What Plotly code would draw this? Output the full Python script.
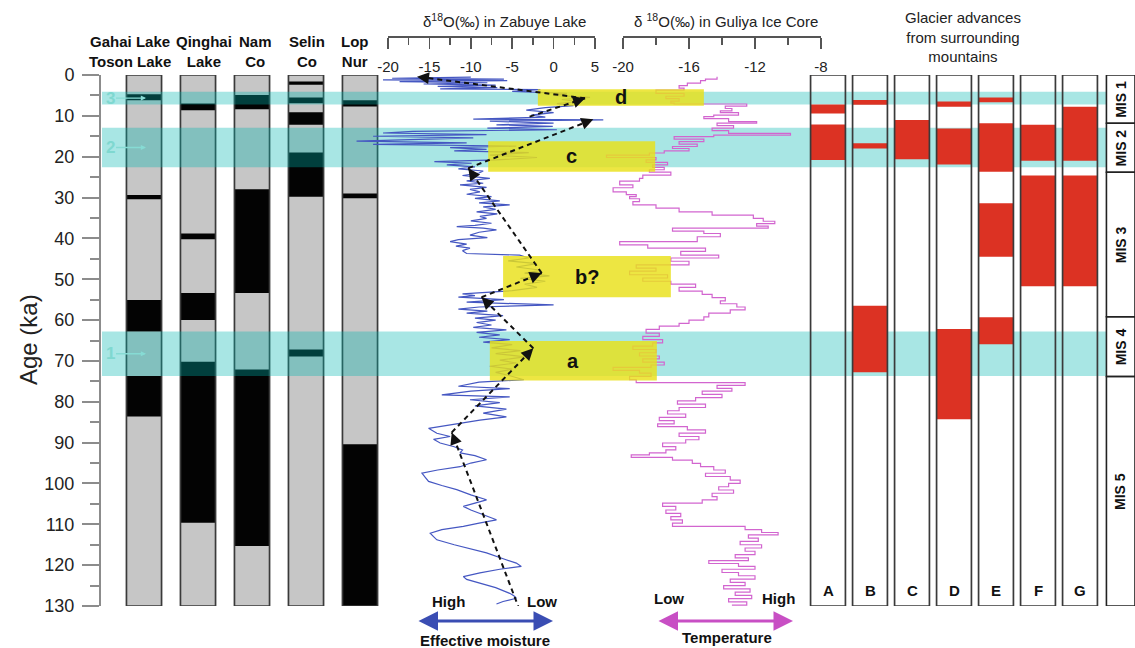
import math
import plotly.graph_objects as go

W, H = 1135, 648
FONT = "Liberation Sans, Arial, Helvetica, sans-serif"

# ------------------------------------------------------------------ data
AGE_TICKS = [0, 10, 20, 30, 40, 50, 60, 70, 80, 90, 100, 110, 120, 130]
AGE_MINOR = [5, 15, 25, 35, 45, 55, 65, 75, 85, 95, 105, 115, 125]
AGE_MAX = 130

LAKES = ["Gahai Toson", "Qinghai", "Nam Co", "Selin Co", "Lop Nur"]
LAKE_HEADERS = ["Gahai Lake<br>Toson Lake", "Qinghai<br>Lake", "Nam<br>Co", "Selin<br>Co", "Lop<br>Nur"]
GAHAI_WET = [(4.7, 6.2), (29.4, 30.4), (55.1, 62.8), (73.7, 83.6)]
QINGHAI_WET = [(7.0, 8.6), (38.8, 40.2), (53.4, 60.0), (70.2, 109.6)]
NAMCO_WET = [(4.9, 8.4), (28.0, 53.4), (72.1, 115.3)]
SELINCO_WET = [(1.6, 2.4), (5.5, 6.9), (9.1, 12.2), (19.0, 29.8), (67.2, 68.9)]
LOPNUR_WET = [(6.2, 7.7), (29.0, 30.2), (90.4, 130.0)]
LAKE_WET = [GAHAI_WET, QINGHAI_WET, NAMCO_WET, SELINCO_WET, LOPNUR_WET]

BAND_NAMES = ["1", "2", "3"]
BAND_START = [62.8, 12.9, 4.1]
BAND_END = [73.7, 22.6, 7.2]

ZAB_TICKS = [-20, -15, -10, -5, 0, 5]
ZAB_MINOR = [-17.5, -12.5, -7.5, -2.5, 2.5]
GUL_TICKS = [-20, -16, -12, -8]
GUL_MINOR = [-18, -14, -10]

ZAB_AGE = [0.5, 0.8, 1.0, 1.2, 1.4, 1.6, 1.9, 2.2, 2.5, 2.8, 3.1, 3.4, 3.6, 4.0, 4.5, 5.0,
           5.5, 6.0, 6.5, 7.0, 7.5, 8.0, 8.6, 9.2, 9.8, 10.3, 10.8, 11.0, 11.3, 11.8, 12.2,
           12.6, 13.0, 13.4, 13.8, 14.2, 14.6, 15.0, 15.4, 15.8, 16.2, 16.6, 17.0, 17.4,
           17.8, 18.2, 18.6, 19.0, 19.6, 20.2, 20.8, 21.2, 21.6, 22.0, 22.5, 23.0, 23.5,
           24.0, 24.6, 25.3, 25.9, 26.5, 26.9, 27.5, 28.0, 28.6, 29.2, 29.8, 30.2, 30.8,
           31.3, 31.8, 32.3, 32.9, 33.5, 34.0, 34.6, 35.1, 35.7, 36.3, 36.8, 37.1, 37.5,
           37.9, 38.5, 39.2, 39.8, 40.3, 40.8, 41.4, 41.9, 42.4, 43.0, 43.7, 44.1, 44.8,
           45.5, 46.2, 47.0, 47.8, 48.5, 49.2, 49.8, 50.5, 51.2, 52.0, 52.8, 53.6, 54.0,
           54.4, 55.0, 55.6, 56.3, 56.8, 57.3, 57.8, 58.3, 58.9, 59.5, 60.0, 60.6, 61.2,
           61.8, 62.4, 63.0, 63.6, 64.2, 64.8, 65.4, 66.0, 66.8, 67.5, 68.2, 69.0, 69.8,
           70.5, 71.3, 72.0, 72.8, 73.5, 74.6, 75.2, 76.2, 76.8, 77.4, 78.3, 78.8, 79.5,
           80.2, 81.0, 81.8, 82.8, 83.7, 84.5, 85.5, 86.5, 87.2, 87.7, 88.5, 89.2, 90.1,
           91.0, 91.8, 92.5, 93.2, 94.2, 95.0, 95.9, 96.7, 97.5, 98.5, 99.5, 100.5, 101.5,
           102.8, 104.0, 104.8, 105.6, 106.5, 107.3, 108.1, 108.9, 109.7, 110.5, 111.3,
           112.2, 113.0, 113.8, 115.0, 116.0, 117.0, 118.5, 119.5, 120.3, 121.0, 121.9,
           122.8, 123.5, 124.4, 125.5, 126.9, 127.5, 128.1, 128.9, 129.5]
ZAB_D18O = [-10.0, -19.5, -6.0, -20.6, -5.6, -18.6, -8.0, -15.7, -7.0, -14.0, -6.8, -13.7,
            -1.6, -5.0, 1.6, 0.0, 4.4, 1.0, 3.0, 0.4, 2.4, -1.0, -3.3, 0.0, -2.7, -1.0, -9.7,
            6.0, -7.7, 0.0, -6.9, -0.1, -8.0, 0.4, -17.0, -20.6, -8.1, -21.8, -9.7, -16.0,
            -23.8, -10.5, -21.8, -4.5, -12.5, -8.1, -12.0, -3.0, -7.7, -2.0, -6.9, -14.4,
            -9.9, -12.9, -9.5, -11.5, -8.5,
            -9.0, -11.0, -7.7, -10.5, -8.5, -11.3, -8.1, -10.1, -8.9, -10.5, -7.5, -9.5,
            -6.5, -9.0, -5.3, -8.5, -7.0, -9.3, -6.8, -8.9, -8.1, -10.0, -7.5, -9.5, -11.7,
            -8.5, -6.9, -9.0, -10.1, -8.0, -11.5, -12.5, -10.5, -11.8, -10.1, -11.0, -10.5,
            -4.1, -3.0, -5.5, -2.0, -4.5, -1.5, -3.5, -0.5, -4.0, -1.0, -3.5, -2.0, -5.0,
            -11.0, -9.5, -11.5, -6.0, -10.5, 0.0, -9.0, -11.5, -8.0, -10.5, -6.1, -9.5, -7.0,
            -9.3, -7.5, -9.7, -5.7, -9.3, -6.5, -9.0, -5.3, -8.5, -5.0, -7.5, -4.0, -7.0,
            -3.5, -6.5, -4.5, -7.7, -5.0, -7.0, -5.5, -3.6, -9.0, -11.5, -5.3, -10.0, -13.5,
            -5.3, -10.1, -6.5, -9.5, -5.7, -8.5, -5.7, -8.9, -12.0, -15.1, -14.5, -14.1,
            -12.5, -14.5, -13.7, -12.0, -11.0, -11.3, -9.5, -8.1, -10.0, -11.3, -14.0, -15.9,
            -15.5, -15.1, -13.5, -11.7, -10.0, -8.1, -9.5, -10.9, -10.0, -8.9, -8.0, -6.9,
            -9.0, -10.9, -13.5, -14.9, -14.5, -14.1, -12.0, -10.0, -8.1, -6.0, -4.5, -3.9,
            -6.5, -8.9, -10.9, -10.5, -8.9, -7.0, -5.3, -4.8, -4.5, -6.1, -6.9]

GUL_AGE = [0.4, 1.0, 1.4, 2.0, 2.6, 3.2, 3.7, 4.5, 5.2, 5.8, 6.4, 6.9, 7.1, 7.6, 8.2, 8.8,
           9.2, 9.8, 10.2, 10.7, 11.4, 11.8, 12.4, 13.0, 13.6, 14.3, 14.7, 15.1, 15.7, 16.3,
           16.9, 17.5, 18.0, 18.6, 19.1, 19.6, 20.2, 20.8, 21.4, 22.0, 22.6, 23.2, 23.8,
           24.5, 25.3, 26.0, 26.9, 27.6, 28.6, 29.3, 29.8, 30.3, 31.0, 31.8, 32.6, 33.5,
           34.3, 35.1, 35.8, 36.4, 37.0, 37.5, 38.2, 38.8, 39.6, 40.8, 41.6, 42.4, 43.2,
           44.1, 44.8, 45.6, 46.5, 47.3, 48.0, 48.9, 49.7, 50.5, 51.2, 52.0, 52.9, 53.7,
           54.5, 55.3, 56.0, 56.8, 57.5, 58.3, 59.2, 60.0, 60.8, 61.5, 62.3, 63.2, 64.0,
           64.8, 65.6, 66.4, 67.2, 68.0, 68.8, 69.5, 70.3, 71.0, 71.6, 72.3, 73.0, 73.8,
           74.6, 75.3, 76.0, 76.7, 77.4, 78.2, 79.0, 79.8, 80.6, 81.4, 82.2, 83.0, 83.8,
           84.6, 85.4, 86.1, 86.9, 87.7, 88.5, 89.3, 90.1, 91.0, 91.8, 92.5, 93.0, 93.6,
           94.3, 95.1, 95.9, 96.7, 97.5, 98.3, 99.2, 100.0, 100.8, 101.6, 102.4, 103.2,
           104.0, 104.8, 105.6, 106.5, 107.3, 108.1, 108.9, 109.7, 110.5, 111.3, 112.0,
           112.6, 113.4, 114.2, 115.0, 115.8, 116.6, 117.4, 118.2, 118.9, 119.6, 120.3,
           121.0, 121.8, 122.6, 123.4, 124.2, 125.0, 125.8, 126.6, 127.4, 128.2, 129.0, 129.8]
GUL_D18O = [-14.3, -15.0, -15.3, -16.1, -16.6, -16.3, -18.0, -16.3, -17.4, -16.6, -17.1,
            -16.9, -12.5, -13.8, -13.4, -14.1, -13.0, -14.5, -15.1, -13.6, -11.9, -14.3,
            -13.3, -14.6, -13.6, -9.85, -14.5, -16.9, -15.1, -16.6, -15.5, -17.0, -16.0,
            -17.5, -18.4, -21.0, -18.0, -18.6, -17.3, -18.2, -17.5, -18.4, -17.1, -18.8,
            -19.0, -20.2, -19.4, -20.6, -19.8, -19.2, -19.6, -19.0, -19.4, -18.0, -16.6,
            -14.6, -12.1, -11.5, -10.8, -11.9, -11.2, -17.0, -15.1, -14.1, -15.5, -20.2,
            -18.5, -15.0, -16.5, -14.2, -17.1, -16.0, -19.2, -18.0, -19.6, -17.3, -18.8,
            -17.1, -15.6, -16.6, -15.2, -14.6, -13.8, -14.1, -13.1, -12.6, -13.5, -14.8,
            -15.1, -16.0, -16.6, -17.8, -18.6, -17.8, -18.8, -17.6, -18.2, -19.4, -18.0,
            -19.0, -17.8, -18.8, -17.5, -18.3, -20.6, -19.0, -18.3, -19.6, -19.2, -12.6,
            -14.3, -13.4, -15.2, -14.0, -15.6, -16.7, -15.0, -16.6, -17.3, -16.2, -17.8,
            -16.9, -17.9, -16.1, -15.0, -16.6, -15.4, -16.2, -17.6, -16.8, -17.4, -18.4,
            -19.5, -17.0, -15.8, -15.3, -14.5, -13.8, -15.0, -13.5, -12.9, -13.6, -14.2,
            -13.3, -14.6, -14.3, -15.2, -17.6, -16.8, -17.4, -16.5, -17.1, -16.4, -17.0,
            -12.6, -11.6, -10.6, -12.4, -11.8, -12.9, -11.6, -12.6, -12.0, -13.2, -12.4,
            -14.8, -13.0, -12.0, -14.0, -13.0, -12.0, -13.5, -12.6, -13.9, -12.3, -13.2,
            -12.2, -13.6, -12.5, -13.4]

# boxes of events (age span, left edge on Zabuye scale, right edge on Guliya scale)
EVENT_LABELS = ["d", "c", "b?", "a"]
EVENT_TOP = [3.5, 16.2, 44.3, 65.1]
EVENT_BOTTOM = [7.5, 23.7, 54.4, 74.8]
EVENT_ZAB_LEFT = [-1.9, -7.9, -6.1, -7.7]
EVENT_GUL_RIGHT = [-15.1, -18.05, -17.1, -17.95]

# dashed trend path on Zabuye scale: (d18O, age) start -> end
TREND_FROM = [(-4.1, 131.0), (-12.3, 87.5), (-2.45, 66.9), (-8.7, 54.4), (-1.44, 48.5),
              (-10.3, 22.8), (-2.9, 10.2), (3.8, 5.7)]
TREND_TO = [(-12.3, 87.5), (-2.45, 66.9), (-8.7, 54.4), (-1.44, 48.5), (-10.3, 22.8),
            (4.8, 10.85), (3.8, 5.7), (-16.5, 0.4)]

GLACIERS = ["A", "B", "C", "D", "E", "F", "G"]
GLAC_A = [(7.2, 9.4), (12.1, 20.8)]
GLAC_B = [(6.1, 7.3), (16.7, 18.0), (56.5, 72.8)]
GLAC_C = [(11.0, 20.6)]
GLAC_D = [(6.5, 7.8), (13.1, 21.9), (62.2, 84.3)]
GLAC_E = [(5.5, 6.7), (11.8, 23.7), (31.4, 44.5), (59.3, 65.9)]
GLAC_F = [(12.2, 21.0), (24.6, 51.7)]
GLAC_G = [(7.8, 21.0), (24.6, 51.7)]
GLAC_SEGS = [GLAC_A, GLAC_B, GLAC_C, GLAC_D, GLAC_E, GLAC_F, GLAC_G]

MIS_NAMES = ["MIS 1", "MIS 2", "MIS 3", "MIS 4", "MIS 5"]
MIS_BOUNDS = [0, 11.8, 23.8, 59.2, 73.8, 130]

# ------------------------------------------------------------------ geometry (px)
Y_TOP, Y_BOT = 75, 606
AXIS_X = 100
LAKE_DOM = (117, 387)
BAND_DOM = (102, 1107)
ZAB_TICK_PX = (388, 595)
ZAB_DATA_PX = (330, 650)
GUL_TICK_PX = (623, 821)
GUL_DATA_PX = (588, 845)
GLAC_DOM = (807, 1101)
MIS_DOM = (1105, 1135)
TOP_AXIS_Y = 36


def zab_px(v):
    return ZAB_TICK_PX[0] + (v - ZAB_TICKS[0]) * (ZAB_TICK_PX[1] - ZAB_TICK_PX[0]) / (ZAB_TICKS[-1] - ZAB_TICKS[0])


def zab_val(px):
    return ZAB_TICKS[0] + (px - ZAB_TICK_PX[0]) * (ZAB_TICKS[-1] - ZAB_TICKS[0]) / (ZAB_TICK_PX[1] - ZAB_TICK_PX[0])


def gul_px(v):
    return GUL_TICK_PX[0] + (v - GUL_TICKS[0]) * (GUL_TICK_PX[1] - GUL_TICK_PX[0]) / (GUL_TICKS[-1] - GUL_TICKS[0])


def gul_val(px):
    return GUL_TICKS[0] + (px - GUL_TICK_PX[0]) * (GUL_TICKS[-1] - GUL_TICKS[0]) / (GUL_TICK_PX[1] - GUL_TICK_PX[0])


def age_px(a):
    return Y_TOP + a * (Y_BOT - Y_TOP) / AGE_MAX


def dom(p):
    return [p[0] / W, p[1] / W]


def px_x(p):
    return p / W


def px_y(p):
    return 1 - p / H


fig = go.Figure()

# ---- lake columns (x) ----
fig.add_trace(go.Bar(x=LAKES, y=[AGE_MAX] * len(LAKES), base=[0] * len(LAKES), width=0.65,
                     marker=dict(color="#c6c6c6", line=dict(width=0)), xaxis="x", yaxis="y",
                     hoverinfo="skip", showlegend=False))
wx, wb, wy = [], [], []
for lake, segs in zip(LAKES, LAKE_WET):
    for s, e in segs:
        wx.append(lake)
        wb.append(s)
        wy.append(e - s)
fig.add_trace(go.Bar(x=wx, y=wy, base=wb, width=0.65, marker=dict(color="#030303", line=dict(width=0)),
                     xaxis="x", yaxis="y", hoverinfo="skip", showlegend=False))
fig.add_trace(go.Bar(x=LAKES, y=[AGE_MAX] * len(LAKES), base=[0] * len(LAKES), width=0.65,
                     marker=dict(color="rgba(0,0,0,0)", line=dict(width=1.7, color="#3a3a3a")),
                     xaxis="x", yaxis="y", hoverinfo="skip", showlegend=False))

# ---- cyan bands (x2) ----
fig.add_trace(go.Bar(orientation="h", x=[1] * len(BAND_NAMES),
                     y=[(s + e) / 2 for s, e in zip(BAND_START, BAND_END)],
                     width=[e - s for s, e in zip(BAND_START, BAND_END)], base=[0] * len(BAND_NAMES),
                     marker=dict(color="rgba(0,181,175,0.34)", line=dict(width=0)),
                     xaxis="x2", yaxis="y", hoverinfo="skip", showlegend=False))

# ---- Zabuye curve (x3) ----
fig.add_trace(go.Scatter(x=ZAB_D18O, y=ZAB_AGE, mode="lines", line=dict(color="#4557c2", width=1.2),
                         xaxis="x3", yaxis="y", hoverinfo="skip", showlegend=False))

# ---- Guliya curve (x4) ----
fig.add_trace(go.Scatter(x=GUL_D18O, y=GUL_AGE, mode="lines", line=dict(color="#d265cf", width=1.2, shape="vh"),
                         xaxis="x4", yaxis="y", hoverinfo="skip", showlegend=False))

# ---- glacier columns (x5) ----
gx, gb, gy = [], [], []
for site, segs in zip(GLACIERS, GLAC_SEGS):
    for s, e in segs:
        gx.append(site)
        gb.append(s)
        gy.append(e - s)
fig.add_trace(go.Bar(x=gx, y=gy, base=gb, width=0.83, marker=dict(color="#dc3223", line=dict(width=0)),
                     xaxis="x5", yaxis="y", hoverinfo="skip", showlegend=False))
fig.add_trace(go.Bar(x=GLACIERS, y=[AGE_MAX] * len(GLACIERS), base=[0] * len(GLACIERS), width=0.83,
                     marker=dict(color="rgba(0,0,0,0)", line=dict(width=1.7, color="#3a3a3a")),
                     xaxis="x5", yaxis="y", hoverinfo="skip", showlegend=False))

# ---- visible top axes (x6, x7) ----
fig.add_trace(go.Scatter(x=[None], y=[None], xaxis="x6", yaxis="y", hoverinfo="skip", showlegend=False))
fig.add_trace(go.Scatter(x=[None], y=[None], xaxis="x7", yaxis="y", hoverinfo="skip", showlegend=False))

# ---- MIS boxes (x8) ----
fig.add_trace(go.Bar(x=["MIS"] * len(MIS_NAMES),
                     y=[MIS_BOUNDS[i + 1] - MIS_BOUNDS[i] for i in range(len(MIS_NAMES))],
                     base=MIS_BOUNDS[:-1], width=1.0,
                     marker=dict(color="rgba(0,0,0,0)", line=dict(width=1.6, color="#222")),
                     xaxis="x8", yaxis="y", hoverinfo="skip", showlegend=False))

shapes = []
annotations = []

# event boxes
for lab, t, b, zl, gr in zip(EVENT_LABELS, EVENT_TOP, EVENT_BOTTOM, EVENT_ZAB_LEFT, EVENT_GUL_RIGHT):
    x0 = zab_px(zl)
    x1 = gul_px(gr)
    shapes.append(dict(type="rect", xref="paper", yref="y", x0=x0 / W, x1=x1 / W, y0=t, y1=b,
                       fillcolor="rgba(233,225,25,0.82)", line=dict(width=0), layer="above"))
    annotations.append(dict(x=(x0 + x1) / 2 / W, y=(t + b) / 2, xref="paper", yref="y", text=f"<b>{lab}</b>",
                            showarrow=False, font=dict(size=20, color="#111", family=FONT)))

# dashed trend lines + arrow heads
for (v0, a0), (v1, a1) in zip(TREND_FROM, TREND_TO):
    shapes.append(dict(type="line", xref="x3", yref="y", x0=v0, y0=a0, x1=v1, y1=a1,
                       line=dict(color="#111", width=2, dash="5px,4px"), layer="above"))
    dx = zab_px(v0) - zab_px(v1)
    dy = age_px(a0) - age_px(a1)
    L = math.hypot(dx, dy)
    annotations.append(dict(x=v1, y=a1, xref="x3", yref="y", ax=dx / L * 11, ay=dy / L * 11,
                            text="", showarrow=True, arrowhead=2, arrowsize=1.2, arrowwidth=2,
                            arrowcolor="#111", standoff=0))

# band labels
for name, s, e in zip(BAND_NAMES, BAND_START, BAND_END):
    annotations.append(dict(x=px_x(146), y=(s + e) / 2, xref="paper", yref="y", ax=-36, ay=0,
                            text=f"<b>{name}</b>", showarrow=True, arrowhead=2, arrowsize=0.8,
                            arrowwidth=1.3, arrowcolor="#86dbd4",
                            font=dict(size=17, color="#7fd8d0", family=FONT)))

# lake headers
for txt, xp in zip(LAKE_HEADERS, [130, 204, 255, 307, 355]):
    annotations.append(dict(x=px_x(xp), y=px_y(51), xref="paper", yref="paper", text=f"<b>{txt}</b>",
                            showarrow=False, font=dict(size=15, color="#111", family=FONT)))

# curve titles
annotations.append(dict(x=px_x(504), y=px_y(20), xref="paper", yref="paper",
                        text="δ<sup>18</sup>O(‰) in Zabuye Lake", showarrow=False,
                        font=dict(size=15, color="#222", family=FONT)))
annotations.append(dict(x=px_x(726), y=px_y(20), xref="paper", yref="paper",
                        text="δ <sup>18</sup>O(‰) in Guliya Ice Core", showarrow=False,
                        font=dict(size=15, color="#222", family=FONT)))
annotations.append(dict(x=px_x(963), y=px_y(37), xref="paper", yref="paper",
                        text="Glacier advances<br>from surrounding<br>mountains", showarrow=False,
                        font=dict(size=15, color="#222", family=FONT)))

# y title
annotations.append(dict(x=px_x(28), y=px_y(340), xref="paper", yref="paper", text="Age (ka)",
                        textangle=-90, showarrow=False, font=dict(size=24, color="#222", family=FONT)))

# glacier site letters
for site in GLACIERS:
    annotations.append(dict(x=site, y=126.2, xref="x5", yref="y", text=f"<b>{site}</b>",
                            showarrow=False, font=dict(size=15, color="#111", family=FONT)))

# MIS labels
for i, name in enumerate(MIS_NAMES):
    annotations.append(dict(x="MIS", y=(MIS_BOUNDS[i] + MIS_BOUNDS[i + 1]) / 2, xref="x8", yref="y",
                            text=f"<b>{name}</b>", textangle=-90, showarrow=False,
                            font=dict(size=14, color="#111", family=FONT)))

# bottom direction legends
BOLD15 = dict(size=15, color="#111", family=FONT)
for txt, xp, yp in [("High", 448, 601), ("Low", 542, 601), ("Effective moisture", 485, 640),
                    ("Low", 669, 598), ("High", 778, 598), ("Temperature", 727, 637)]:
    annotations.append(dict(x=px_x(xp), y=px_y(yp), xref="paper", yref="paper", text=f"<b>{txt}</b>",
                            showarrow=False, font=BOLD15))
annotations.append(dict(x=px_x(553), y=px_y(621), xref="paper", yref="paper", ax=-136, ay=0, text="",
                        showarrow=True, arrowhead=2, arrowside="end+start", arrowsize=1.3, arrowwidth=3,
                        arrowcolor="#3a4db3", standoff=0, startstandoff=0))
annotations.append(dict(x=px_x(793), y=px_y(621), xref="paper", yref="paper", ax=-136, ay=0, text="",
                        showarrow=True, arrowhead=2, arrowside="end+start", arrowsize=1.3, arrowwidth=3,
                        arrowcolor="#c84fc4", standoff=0, startstandoff=0))

for a in annotations:
    a.setdefault("xanchor", "center")
    a.setdefault("yanchor", "middle")

hidden = dict(visible=False, showgrid=False, zeroline=False, fixedrange=True, automargin=False)
top_axis_style = dict(anchor="free", position=px_y(TOP_AXIS_Y), side="bottom", showline=True,
                      linecolor="#555", linewidth=1.5, ticks="outside", ticklen=11, tickwidth=1.5,
                      tickcolor="#555", showgrid=False, zeroline=False, tickmode="array",
                      tickfont=dict(size=15, color="#222", family=FONT), ticklabelstandoff=5,
                      fixedrange=True, automargin=False)

fig.update_layout(
    width=W, height=H, margin=dict(l=0, r=0, t=0, b=0, pad=0, autoexpand=False),
    paper_bgcolor="white", plot_bgcolor="rgba(0,0,0,0)",
    barmode="overlay", showlegend=False, font=dict(family=FONT),
    yaxis=dict(domain=[px_y(Y_BOT), px_y(Y_TOP)], range=[AGE_MAX, 0], anchor="free", position=px_x(AXIS_X),
               side="left", showline=True, linecolor="#8c8c8c", linewidth=2, ticks="outside",
               ticklen=17, tickwidth=2, tickcolor="#8c8c8c", tickmode="array", tickvals=AGE_TICKS,
               minor=dict(tickvals=AGE_MINOR, ticks="outside", ticklen=9, tickwidth=2, tickcolor="#8c8c8c",
                          showgrid=False),
               tickfont=dict(size=18, color="#222", family=FONT), showgrid=False, zeroline=False,
               ticklabelstandoff=4, fixedrange=True, automargin=False),
    xaxis=dict(domain=dom(LAKE_DOM), type="category", categoryarray=LAKES, categoryorder="array",
               range=[-0.5, len(LAKES) - 0.5], **hidden),
    xaxis2=dict(domain=dom(BAND_DOM), range=[0, 1], **hidden),
    xaxis3=dict(domain=dom(ZAB_DATA_PX), range=[zab_val(ZAB_DATA_PX[0]), zab_val(ZAB_DATA_PX[1])], **hidden),
    xaxis4=dict(domain=dom(GUL_DATA_PX), range=[gul_val(GUL_DATA_PX[0]), gul_val(GUL_DATA_PX[1])], **hidden),
    xaxis5=dict(domain=dom(GLAC_DOM), type="category", categoryarray=GLACIERS, categoryorder="array",
                range=[-0.5, len(GLACIERS) - 0.5], **hidden),
    xaxis6=dict(domain=dom(ZAB_TICK_PX), range=[ZAB_TICKS[0] - 0.001, ZAB_TICKS[-1] + 0.001],
                tickvals=ZAB_TICKS, ticktext=[str(t) for t in ZAB_TICKS],
                minor=dict(tickvals=ZAB_MINOR, ticks="outside", ticklen=7, tickwidth=1.5, tickcolor="#555"),
                **top_axis_style),
    xaxis7=dict(domain=dom(GUL_TICK_PX), range=[GUL_TICKS[0] - 0.001, GUL_TICKS[-1] + 0.001],
                tickvals=GUL_TICKS, ticktext=[str(t) for t in GUL_TICKS],
                minor=dict(tickvals=GUL_MINOR, ticks="outside", ticklen=7, tickwidth=1.5, tickcolor="#555"),
                **top_axis_style),
    xaxis8=dict(domain=dom(MIS_DOM), type="category", range=[-0.55, 0.5], **hidden),
    shapes=shapes,
    annotations=annotations,
)

fig.write_html("out.html", config={"displayModeBar": False, "staticPlot": True},
               post_script="document.body.style.margin='0px';document.body.style.overflow='hidden';")
